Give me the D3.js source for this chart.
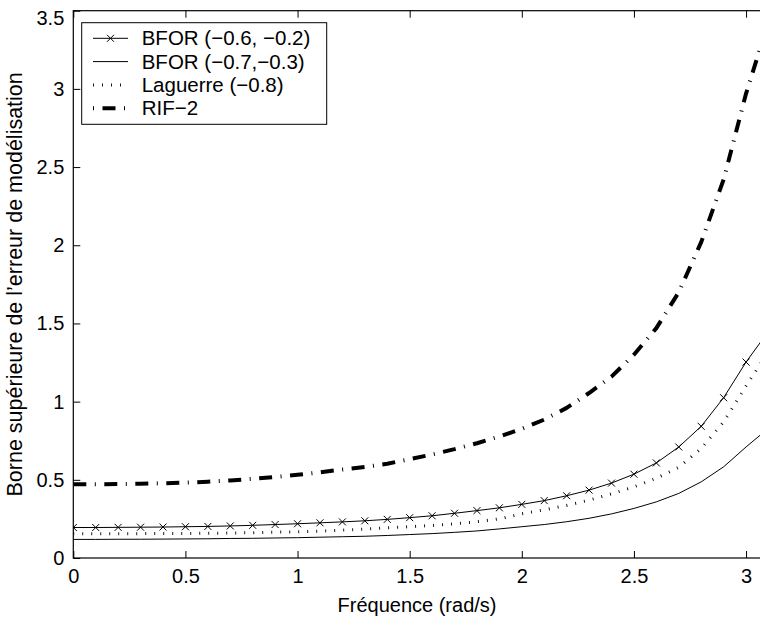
<!DOCTYPE html>
<html><head><meta charset="utf-8">
<script src="https://cdn.jsdelivr.net/npm/d3@7"></script>
<style>body{margin:0;background:#fff}svg{display:block}text{font-family:"Liberation Sans",Arial,Helvetica,sans-serif;fill:#000}</style>
</head><body>
<svg id="c" width="760" height="621"></svg>
<script>
const freq = [0,0.1,0.2,0.3,0.4,0.5,0.6,0.7,0.8,0.9,1.0,1.1,1.2,1.3,1.4,1.5,1.6,1.7,1.8,1.9,2.0,2.1,2.2,2.3,2.4,2.5,2.6,2.7,2.8,2.9,3.0,3.1];
const bfor1 = [0.195,0.195,0.196,0.197,0.198,0.200,0.202,0.205,0.209,0.214,0.219,0.225,0.231,0.238,0.247,0.258,0.270,0.286,0.303,0.321,0.343,0.367,0.398,0.434,0.479,0.536,0.608,0.710,0.842,1.025,1.253,1.450];
const bfor2 = [0.119,0.119,0.120,0.120,0.121,0.122,0.123,0.125,0.126,0.128,0.130,0.133,0.136,0.139,0.144,0.150,0.156,0.164,0.173,0.186,0.200,0.214,0.232,0.254,0.282,0.317,0.359,0.413,0.487,0.583,0.710,0.830];
const laguerre = [0.155,0.155,0.155,0.156,0.156,0.157,0.158,0.160,0.162,0.165,0.168,0.172,0.178,0.185,0.193,0.200,0.208,0.218,0.232,0.250,0.283,0.308,0.336,0.370,0.410,0.455,0.510,0.580,0.700,0.870,1.100,1.320];
const rif2 = [0.472,0.472,0.473,0.475,0.478,0.482,0.488,0.496,0.506,0.518,0.532,0.548,0.566,0.582,0.603,0.632,0.662,0.696,0.734,0.777,0.826,0.885,0.960,1.055,1.160,1.300,1.470,1.700,2.020,2.420,2.970,3.430];
const seriesNames = ["BFOR (\u22120.6, \u22120.2)","BFOR (\u22120.7,\u22120.3)","Laguerre (\u22120.8)","RIF\u22122"];
const xTicks = [0,0.5,1,1.5,2,2.5,3];
const yTicks = [0,0.5,1,1.5,2,2.5,3,3.5];
const xLabel = "Fréquence (rad/s)";
const yLabel = "Borne supérieure de l\u2019erreur de modélisation";

const svg = d3.select("#c");
const L = 73.3, R = 777.8, T = 10.7, B = 558;
const x = d3.scaleLinear().domain([0, Math.PI]).range([L, R]);
const y = d3.scaleLinear().domain([0, 3.5]).range([B, T]);
const fmt = d3.format("~g");
const FS = 20;

const styles = [
  {w:1, dash:null, off:0},
  {w:1, dash:null, off:0},
  {w:3, dash:"0.9,8.1", off:0},
  {w:4, dash:"13,8.5,1,8.5", off:21.5}
];
const data = [bfor1, bfor2, laguerre, rif2];

svg.append("clipPath").attr("id","pc").append("rect")
  .attr("x",L).attr("y",T).attr("width",R-L).attr("height",B-T);

const line = d3.line().x((d,i)=>x(freq[i])).y(d=>y(d));
const g = svg.append("g").attr("clip-path","url(#pc)");
data.forEach((s,k)=>{
  g.append("path").attr("d", line(s)).attr("fill","none").attr("stroke","#000")
    .attr("stroke-width", styles[k].w).attr("stroke-dasharray", styles[k].dash)
    .attr("stroke-linecap","butt").attr("stroke-linejoin","round");
});
const ms = 3.5;
g.selectAll("path.mk").data(bfor1).enter().append("path").attr("class","mk")
  .attr("d",(d,i)=>{const cx=x(freq[i]), cy=y(d);return `M${cx-ms},${cy-ms}L${cx+ms},${cy+ms}M${cx-ms},${cy+ms}L${cx+ms},${cy-ms}`;})
  .attr("stroke","#000").attr("stroke-width",1).attr("fill","none");

// axes
const tick = 7;
const axB = d3.axisBottom(x).tickValues(xTicks).tickFormat(fmt).tickSizeInner(-tick).tickSizeOuter(0).tickPadding(11);
const axT = d3.axisTop(x).tickValues(xTicks).tickFormat("").tickSizeInner(-tick).tickSizeOuter(0);
const axL = d3.axisLeft(y).tickValues(yTicks).tickFormat(fmt).tickSizeInner(-tick).tickSizeOuter(0).tickPadding(9);
const axR = d3.axisRight(y).tickValues(yTicks).tickFormat("").tickSizeInner(-tick).tickSizeOuter(0);
function style(sel){sel.select(".domain").remove();sel.selectAll("line").attr("stroke","#000");sel.selectAll("text").attr("font-size",FS).attr("font-family",null).attr("fill","#000");}
svg.append("g").attr("transform",`translate(0,${B})`).call(axB).call(style);
svg.append("g").attr("transform",`translate(0,${T})`).call(axT).call(style);
const gl = svg.append("g").attr("transform",`translate(${L},0)`).call(axL).call(style);
gl.selectAll(".tick text").filter(d=>d===3.5).attr("dy","0.67em");
svg.append("g").attr("transform",`translate(${R},0)`).call(axR).call(style);
svg.append("rect").attr("x",L).attr("y",T).attr("width",R-L).attr("height",B-T)
  .attr("fill","none").attr("stroke","#000").attr("stroke-width",1.2);

// labels
svg.append("text").attr("x",417).attr("y",612).attr("text-anchor","middle").attr("font-size",FS).text(xLabel);
svg.append("text").attr("transform",`translate(21.5,${(T+B)/2}) rotate(-90)`).attr("text-anchor","middle").attr("font-size",21.5).text(yLabel);

// legend
const lg = svg.append("g");
lg.append("rect").attr("x",81.7).attr("y",22.7).attr("width",245).attr("height",101.6)
  .attr("fill","#fff").attr("stroke","#000").attr("stroke-width",1);
seriesNames.forEach((n,k)=>{
  const cy = 38.3 + k*23.3;
  lg.append("line").attr("x1",93).attr("x2",128).attr("y1",cy).attr("y2",cy)
    .attr("stroke","#000").attr("stroke-width",styles[k].w).attr("stroke-dasharray",styles[k].dash)
    .attr("stroke-dashoffset",styles[k].off);
  if(k===0){
    const cx=110.5;
    lg.append("path").attr("d",`M${cx-ms},${cy-ms}L${cx+ms},${cy+ms}M${cx-ms},${cy+ms}L${cx+ms},${cy-ms}`).attr("stroke","#000").attr("stroke-width",1);
  }
  lg.append("text").attr("x",141.7).attr("y",cy).attr("dy","0.35em").attr("font-size",20.5).text(n);
});
</script>
</body></html>
